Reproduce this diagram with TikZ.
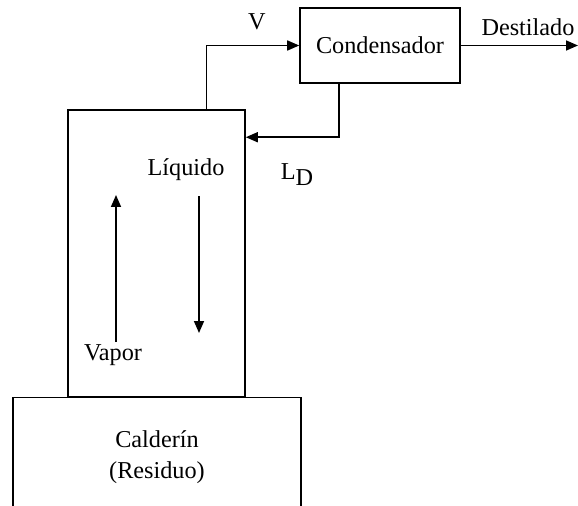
\documentclass[tikz,border=0pt]{standalone}
\usepackage{fontspec}
\setmainfont{Liberation Serif}
\usetikzlibrary{arrows.meta, positioning, calc}
\tikzstyle{unit} = [rectangle, draw=black, line width=0.9pt, text centered, align=center]
\tikzstyle{flow} = [line width=0.9pt, -{Triangle[length=0.24cm, width=0.2cm]}]
\tikzstyle{lbl} = [inner sep=0pt]

\begin{document}
\begin{tikzpicture}[x=0.02cm, y=-0.02cm, every node/.style={font=\fontsize{13.8}{18}\selectfont}]
    \useasboundingbox (0,0) rectangle (578,506);
    \node[unit, minimum width=3.54cm, minimum height=5.74cm] (columna) at (156.5,253.5) {};
    \node[unit, minimum width=5.76cm, minimum height=2.4cm] (calderin) at (157,457.3) {Calder\'in\\(Residuo)};
    \node[unit, minimum width=3.2cm, minimum height=1.5cm] (cond) at (380,45.5) {Condensador};
    \coordinate (salida) at (578,45.5);

    \node[lbl] (V) at (257,22) {V};
    \node[lbl] (dest) at (528,27) {Destilado};
    \node[lbl] (LD) at (297,175) {L\raisebox{-0.55ex}{D}};
    \node[lbl] (liq) at (186,170) {L\'iquido};
    \node[lbl] (vap) at (113,355) {Vapor};
    \coordinate (liqfin) at (199,333);
    \coordinate (vapfin) at (116,195);

    \draw[flow] ([xshift=1.0cm]columna.north) |- (cond.west);
    \draw[flow] (cond.east) -- (salida);
    \draw[flow] ([xshift=-0.82cm]cond.south) |- ([yshift=-0.56cm]columna.north east);
    \draw[flow] (liq.south -| liqfin) ++(0,15) -- (liqfin);
    \draw[flow] (vap.north -| vapfin) ++(0,-2) -- (vapfin);
\end{tikzpicture}
\end{document}
